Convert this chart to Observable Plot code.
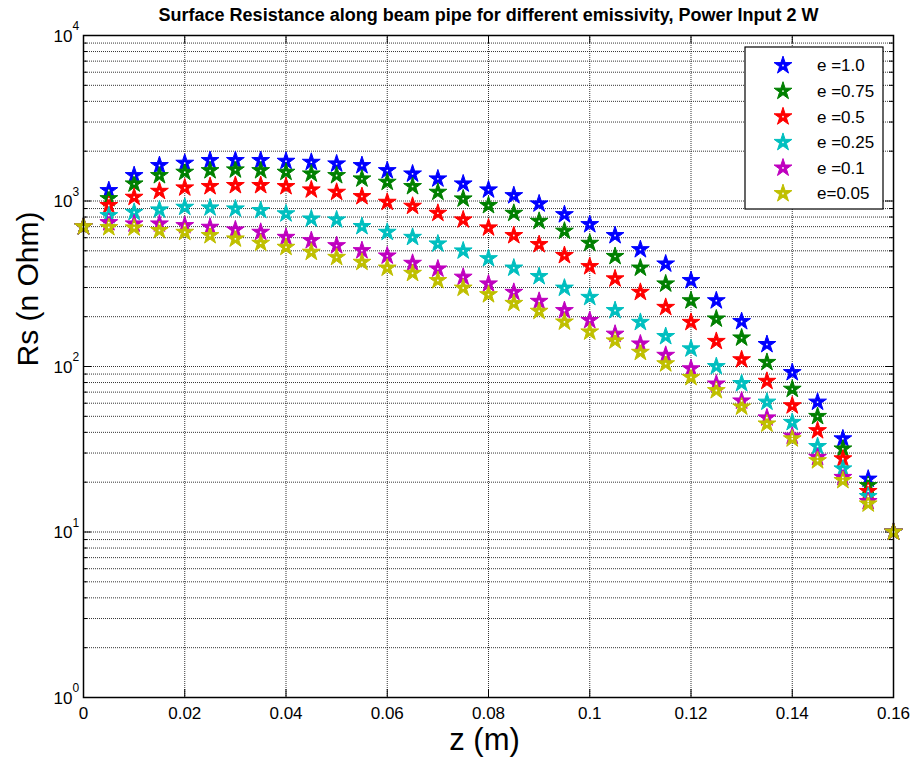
<!DOCTYPE html>
<html>
<head>
<meta charset="utf-8">
<script src="https://cdn.jsdelivr.net/npm/d3@7"></script>
<script src="https://cdn.jsdelivr.net/npm/@observablehq/plot@0.6"></script>
<style>
  body { margin: 0; background: #fff; }
  #chart { position: relative; width: 910px; height: 759px; }
</style>
</head>
<body>
<div id="chart"></div>
<script>
// ---- data ----
const zValues = [0, 0.005, 0.01, 0.015, 0.02, 0.025, 0.03, 0.035, 0.04, 0.045, 0.05, 0.055, 0.06, 0.065, 0.07, 0.075, 0.08, 0.085, 0.09, 0.095, 0.1, 0.105, 0.11, 0.115, 0.12, 0.125, 0.13, 0.135, 0.14, 0.145, 0.15, 0.155, 0.16];
const rsE100 = [700, 1157, 1426, 1639, 1694, 1758, 1758, 1758, 1741, 1716, 1678, 1639, 1528, 1459, 1362, 1270, 1169, 1079, 962, 828, 721, 619, 509, 417, 331, 250, 187, 136, 92, 61, 36.6, 20.9, 10];
const rsE075 = [700, 1035, 1270, 1426, 1494, 1528, 1544, 1528, 1494, 1459, 1426, 1362, 1300, 1224, 1131, 1031, 940, 844, 755, 658, 556, 463, 394, 316, 250, 194, 149, 106, 73, 50, 31.8, 19.1, 10];
const rsE050 = [700, 940, 1055, 1146, 1202, 1224, 1242, 1242, 1224, 1169, 1131, 1065, 984, 931, 844, 770, 689, 619, 546, 469, 402, 339, 281, 228, 185, 142, 110, 81.5, 58, 41, 27.7, 17.6, 10];
const rsE025 = [700, 817, 855, 885, 918, 910, 897, 877, 838, 780, 770, 702, 648, 604, 551, 500, 449, 394, 350, 298, 262, 218, 185, 152, 128, 100, 79, 61, 46, 32.9, 24.1, 16.4, 10];
const rsE010 = [700, 741, 728, 728, 711, 695, 670, 648, 604, 577, 538, 502, 466, 421, 389, 347, 316, 281, 248, 218, 190, 157, 137, 117, 97, 78.5, 62, 49, 38, 28.3, 21.4, 15.3, 10];
const rsE005 = [700, 692, 689, 664, 648, 619, 591, 556, 526, 491, 457, 427, 394, 366, 331, 298, 272, 241, 216, 186, 162, 143, 122, 104, 86, 71.6, 57, 45, 36.6, 27, 20.5, 14.8, 10];

const seriesLabels = ["e =1.0", "e =0.75", "e =0.5", "e =0.25", "e =0.1", "e=0.05"];
const seriesColors = ["#0000FF", "#008000", "#FF0000", "#00BFBF", "#BF00BF", "#BFBF00"];

const xTicks = [0, 0.02, 0.04, 0.06, 0.08, 0.1, 0.12, 0.14, 0.16];
const xTickLabels = ["0", "0.02", "0.04", "0.06", "0.08", "0.1", "0.12", "0.14", "0.16"];
const yTicks = [1, 10, 100, 1000, 10000];
const yTickExponents = ["0", "1", "2", "3", "4"];
const minorMultipliers = [2, 3, 4, 5, 6, 7, 8, 9];

const titleText = "Surface Resistance along beam pipe for different emissivity, Power Input 2 W";
const xLabel = "z (m)";
const yLabel = "Rs (n Ohm)";

// ---- build table ----
const seriesValues = [rsE100, rsE075, rsE050, rsE025, rsE010, rsE005];
const data = seriesValues.flatMap((vals, s) =>
  vals.map((v, i) => ({ z: zValues[i], rs: v, series: seriesLabels[s] })));
const yMinor = yTicks.slice(0, -1).flatMap(d => minorMultipliers.map(k => k * d));

const W = 910, H = 759, ML = 83, MR = 17, MT = 35, MB = 62;
const FW = W - ML - MR, FH = H - MT - MB;
const font = "'Liberation Sans', Arial, Helvetica, sans-serif";
const gridStyle = { stroke: "#000", strokeOpacity: 0.8, strokeDasharray: "1,1", strokeWidth: 1 };
const starR = 5.6;

const plot = Plot.plot({
  width: W, height: H,
  marginLeft: ML, marginRight: MR, marginTop: MT, marginBottom: MB,
  style: { fontFamily: font, background: "#fff", overflow: "visible" },
  x: { domain: [0, 0.16], axis: null },
  y: { type: "log", domain: [1, 10000], axis: null },
  color: { domain: seriesLabels, range: seriesColors },
  marks: [
    // grid
    Plot.ruleX(xTicks, { x: d => d, ...gridStyle }),
    Plot.ruleY([...yTicks, ...yMinor], { y: d => d, ...gridStyle }),
    // inward ticks
    Plot.tickY(yTicks, { y: d => d, insetRight: FW - 8, stroke: "#000" }),
    Plot.tickY(yTicks, { y: d => d, insetLeft: FW - 8, stroke: "#000" }),
    Plot.tickY(yMinor, { y: d => d, insetRight: FW - 4, stroke: "#000" }),
    Plot.tickY(yMinor, { y: d => d, insetLeft: FW - 4, stroke: "#000" }),
    Plot.tickX(xTicks, { x: d => d, insetTop: FH - 8, stroke: "#000" }),
    Plot.tickX(xTicks, { x: d => d, insetBottom: FH - 8, stroke: "#000" }),
    // data
    Plot.dot(data, { x: "z", y: "rs", fill: "series", stroke: "series", symbol: "star", r: starR, strokeWidth: 1 }),
    Plot.dot(data, { x: "z", y: "rs", fill: "#fff", r: 0.9 }),
    Plot.frame({ stroke: "#000", strokeWidth: 1.5 }),
    // tick labels
    Plot.text(xTicks, { x: d => d, frameAnchor: "bottom", dy: 16, text: (d, i) => xTickLabels[i], fontSize: 17, lineAnchor: "middle", fill: "#000" }),
    Plot.text(yTicks, { y: d => d, frameAnchor: "left", dx: -11, dy: 1, text: () => "10", textAnchor: "end", fontSize: 17, lineAnchor: "middle", fill: "#000" }),
    Plot.text(yTicks, { y: d => d, frameAnchor: "left", dx: -11, dy: -9, text: (d, i) => yTickExponents[i], textAnchor: "start", fontSize: 12, lineAnchor: "middle", fill: "#000" }),
    // axis labels & title
    Plot.text([xLabel], { frameAnchor: "bottom", dx: -4, dy: 43, text: d => d, fontSize: 31, lineAnchor: "middle", fill: "#000" }),
    Plot.text([yLabel], { frameAnchor: "left", dx: -55, text: d => d, fontSize: 30, rotate: -90, lineAnchor: "middle", fill: "#000" }),
    Plot.text([titleText], { frameAnchor: "top", dy: -20, text: d => d, fontSize: 18, fontWeight: "bold", lineAnchor: "middle", fill: "#000" })
  ]
});

document.getElementById("chart").appendChild(plot);

// ---- legend (boxed, top-right, inside axes) ----
const svg = d3.select(plot);
const lg = svg.append("g").attr("font-family", font).attr("text-anchor", "start");
const boxX = 745, boxY = 47, boxW = 138, boxH = 162;
lg.append("rect").attr("x", boxX).attr("y", boxY).attr("width", boxW).attr("height", boxH)
  .attr("fill", "#fff").attr("stroke", "#000").attr("stroke-width", 1.2);
const starPath = d3.symbol(d3.symbolStar, Math.PI * starR * starR)();
seriesLabels.forEach((lab, i) => {
  const cy = boxY + 18.5 + i * 25.6;
  lg.append("path").attr("d", starPath).attr("transform", `translate(${boxX + 38},${cy})`)
    .attr("fill", seriesColors[i]).attr("stroke", seriesColors[i]);
  lg.append("circle").attr("cx", boxX + 38).attr("cy", cy).attr("r", 0.9).attr("fill", "#fff");
  lg.append("text").attr("x", boxX + 72).attr("y", cy).attr("dy", "0.35em")
    .attr("text-anchor", "start").attr("font-size", 17).attr("fill", "#000").text(lab);
});
</script>
</body>
</html>
